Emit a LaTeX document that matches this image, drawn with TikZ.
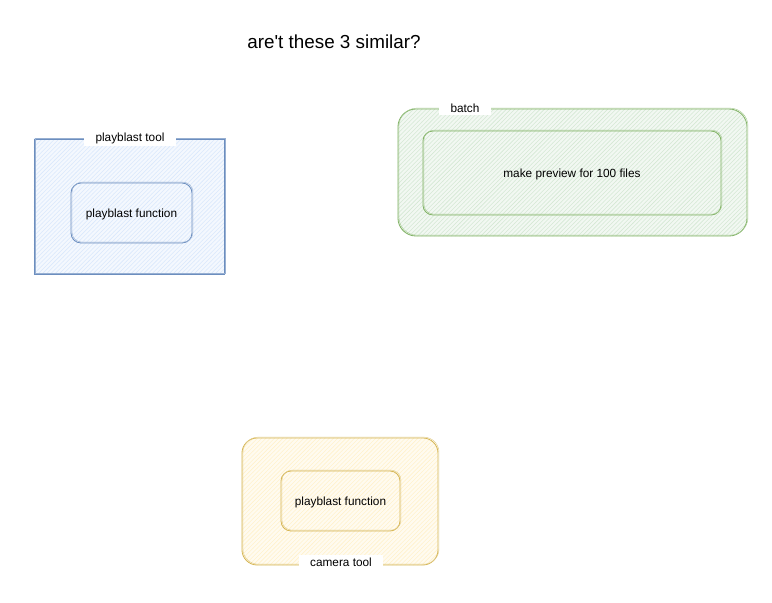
\documentclass[tikz,border=0pt]{standalone}
\usepackage{fontspec}
\setmainfont{Liberation Sans}
\usepackage{tikz}
\usetikzlibrary{patterns}
\usepackage{xcolor}

\definecolor{blueline}{HTML}{6C8EBF}
\definecolor{bluefill}{HTML}{DAE8FC}
\definecolor{greenline}{HTML}{82B366}
\definecolor{greenfill}{HTML}{D5E8D4}
\definecolor{yellowline}{HTML}{D6B656}
\definecolor{yellowfill}{HTML}{FFF2CC}

\tikzset{
  sketchbox/.style={draw=#1line, line width=0.6pt, preaction={fill=#1fill!30},
    pattern=north east lines, pattern color=#1fill, inner sep=0pt,
    postaction={draw=#1line!70, line width=0.3pt, transform canvas={shift={(0.7pt,0.6pt)}}}},
  tag/.style={fill=white, inner xsep=8pt, inner ysep=2pt, font=\fontsize{8.4}{10}\selectfont},
  txt/.style={font=\fontsize{8.4}{10}\selectfont}
}

\begin{document}
\begin{tikzpicture}[x=0.025cm,y=-0.025cm]
\useasboundingbox (0,0) rectangle (772,603);

\node[font=\fontsize{13.4}{16}\selectfont] (title) at (334,42) {are\textquotesingle t these 3 similar?};

% playblast tool
\node[sketchbox=blue, minimum width=4.75cm, minimum height=3.375cm] (tool) at (129,206.5) {};
\node[sketchbox=blue, rounded corners=0.25cm, minimum width=3.025cm, minimum height=1.5cm] (func) at (131.5,213) {};
\node[txt] (functxt) at (131.5,214) {playblast function};
\node[tag] (tooltag) at (130,138) {playblast tool};

% batch
\node[sketchbox=green, rounded corners=0.45cm, minimum width=8.725cm, minimum height=3.175cm] (batch) at (572.5,172.5) {};
\node[sketchbox=green, rounded corners=0.25cm, minimum width=7.45cm, minimum height=2.1cm] (prev) at (572,173) {};
\node[txt] (prevtxt) at (572,174) {make preview for 100 files};
\node[tag] (batchtag) at (465,108) {batch};

% camera tool
\node[sketchbox=yellow, rounded corners=0.38cm, minimum width=4.9cm, minimum height=3.175cm] (cam) at (340,501.5) {};
\node[sketchbox=yellow, rounded corners=0.25cm, minimum width=2.975cm, minimum height=1.5cm] (camfunc) at (340.5,501) {};
\node[txt] (camfunctxt) at (340.5,502) {playblast function};
\node[tag] (camtag) at (341,562) {camera tool};

\end{tikzpicture}
\end{document}
